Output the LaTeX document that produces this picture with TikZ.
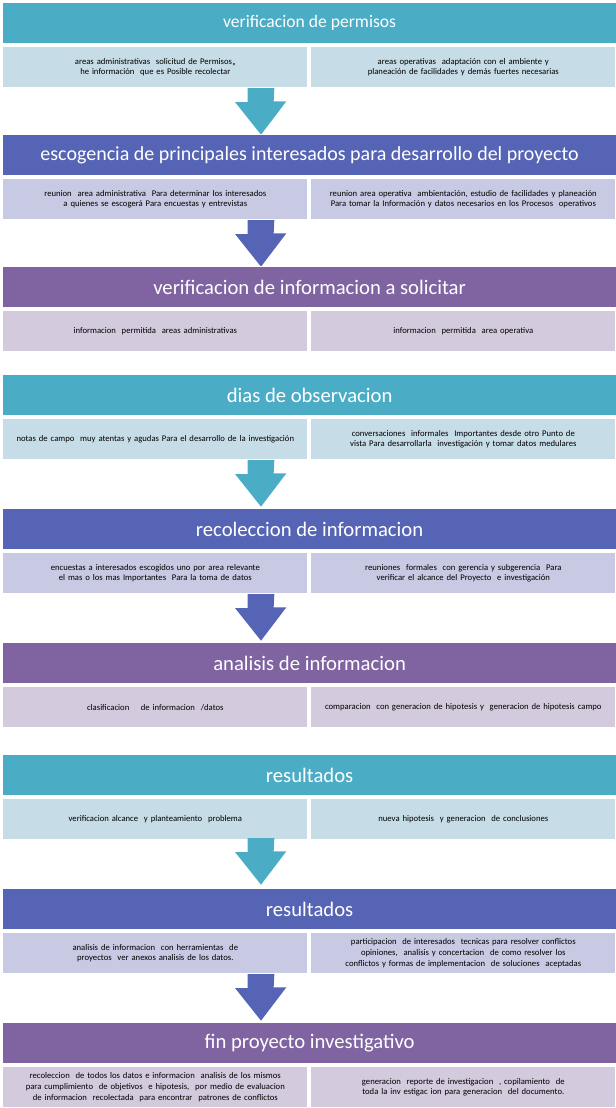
\documentclass[tikz,border=0pt]{standalone}
\usepackage{fontspec}
\setmainfont{Carlito}
\hyphenpenalty=10000
\exhyphenpenalty=10000
\definecolor{tealA}{HTML}{4BACC6}
\definecolor{tealB}{HTML}{C6DCE6}
\definecolor{blueA}{HTML}{5564B4}
\definecolor{blueB}{HTML}{C8C9E3}
\definecolor{purpA}{HTML}{8064A2}
\definecolor{purpB}{HTML}{D4CADD}
\tikzset{
  titulo/.style={draw=white, fill=#1A, text=white, minimum width=461pt, minimum height=31pt,
    inner sep=0pt, font=\fontsize{15.5}{17}\selectfont, anchor=north west},
  caja/.style={draw=white, line width=1pt, fill=#1B, minimum width=229pt, minimum height=31pt,
    inner sep=2pt, align=center, text width=212pt, anchor=north west,
    font=\fontsize{6.5}{8}\selectfont},
  flecha/.style={fill=#1A, draw=none}
}
% una etapa: titulo y dos cajas
\newcommand\etapa[6]{
  \node[titulo=#3] (h#1) at (2,#2) {#4};
  \node[caja=#3] (l#1) at (2,#2+44) {#5};
  \node[caja=#3] (r#1) at (310,#2+44) {#6};
}
% flecha entre etapas
\newcommand\bajar[3]{
  \coordinate (a#1) at (261,#2);
  \fill[flecha=#3] ([xshift=-10pt]a#1) -- ++(0,-10.5pt) -- ++(-9.5pt,0) -- ([yshift=-35pt]a#1)
    -- ++(19pt,25pt) -- ++(-9.5pt,0) -- ([xshift=10pt]a#1) -- cycle;
}
\begin{document}
\begin{tikzpicture}[x=0.75pt,y=-0.75pt]
\useasboundingbox (0,0) rectangle (616,1108);
\etapa{1}{2}{teal}{\fontsize{13.2}{15}\selectfont verificacion de permisos}
  {areas administrativas \ solicitud de Permisos,, he información \ que es Posible recolectar}
  {areas operativas \ adaptación con el ambiente y planeación de facilidades y demás fuertes necesarias}
\bajar{1}{88}{teal}
\etapa{2}{134}{blue}{\fontsize{15}{17}\selectfont escogencia de principales interesados para desarrollo del proyecto}
  {reunion \ area administrativa \ Para determinar los interesados a quienes se escogerá Para encuestas y entrevistas}
  {reunion area operativa \ ambientación, estudio de facilidades y planeación \ Para tomar la Información y datos necesarios en los Procesos \ operativos}
\bajar{2}{220}{blue}
\etapa{3}{266}{purp}{verificacion de informacion a solicitar}
  {informacion \ permitida \ areas administrativas}
  {informacion \ permitida \ area operativa}
\etapa{4}{374}{teal}{dias de observacion}
  {notas de campo \ muy atentas y agudas Para el desarrollo de la investigación}
  {conversaciones \ informales \ Importantes desde otro Punto de vista Para desarrollarla \ investigación y tomar datos medulares}
\bajar{4}{460}{teal}
\etapa{5}{508}{blue}{recoleccion de informacion}
  {encuestas a interesados escogidos uno por area relevante \ el mas o los mas Importantes \ Para la toma de datos}
  {reuniones \ formales \ con gerencia y subgerencia \ Para verificar el alcance del Proyecto \ e investigación}
\bajar{5}{594}{blue}
\etapa{6}{642}{purp}{analisis de informacion}
  {clasificacion \quad de informacion \ /datos}
  {comparacion \ con generacion de hipotesis y \ generacion de hipotesis campo}
\etapa{7}{754}{teal}{resultados}
  {verificacion alcance \ y planteamiento \ problema}
  {nueva hipotesis \ y generacion \ de conclusiones}
\bajar{7}{838}{teal}
\etapa{8}{888}{blue}{resultados}
  {analisis de informacion \ con herramientas \ de proyectos \ ver anexos analisis de los datos.}
  {participacion \ de interesados \ tecnicas para resolver conflictos opiniones, \ analisis y concertacion \ de como resolver los \ conflictos y formas de implementacion \ de soluciones \ aceptadas}
\bajar{8}{974}{blue}
\etapa{9}{1022}{purp}{fin proyecto investigativo}
  {recoleccion \ de todos los datos e informacion \ analisis de los mismos para cumplimiento \ de objetivos \ e hipotesis, \ por medio de evaluacion de informacion \ recolectada \ para encontrar \ patrones de conflictos}
  {generacion \ reporte de investigacion \ , copilamiento \ de toda la inv estigac ion para generacion \ del documento.}
\end{tikzpicture}
\end{document}
